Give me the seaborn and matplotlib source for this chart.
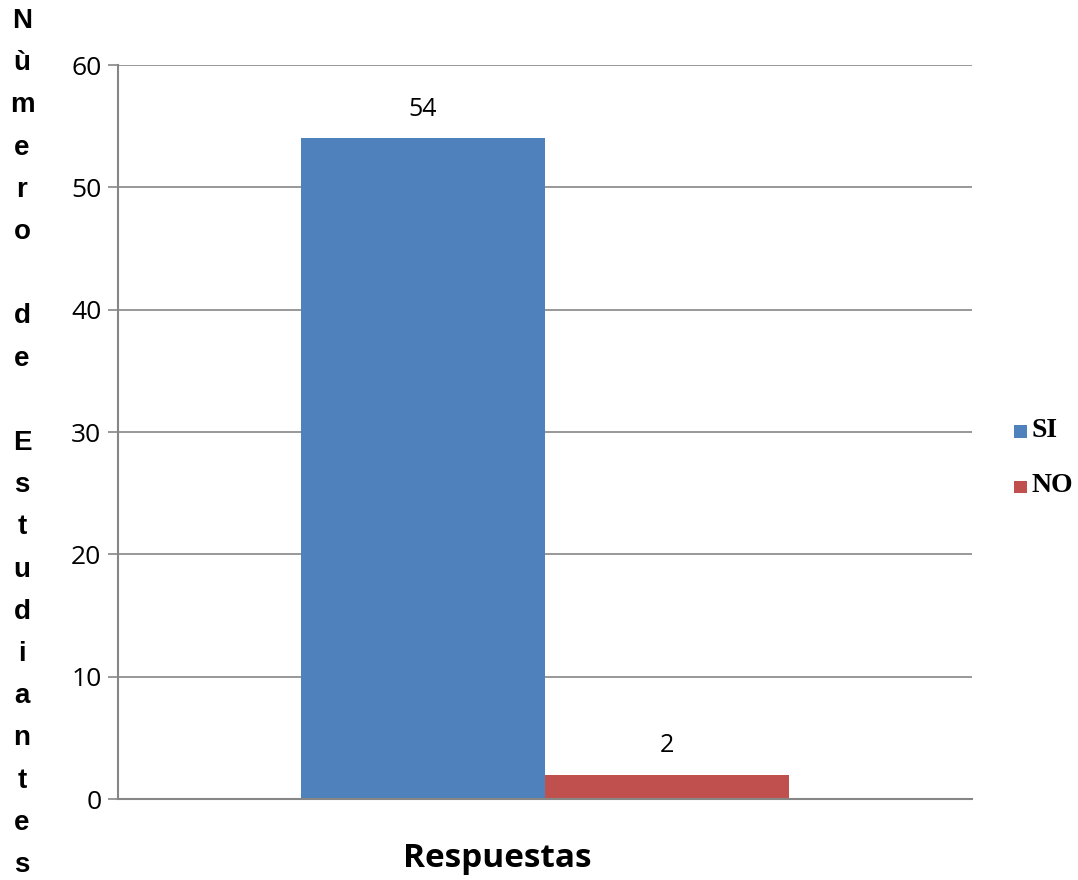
"""
Bar chart: number of students answering SI / NO.
"""
import pandas as pd
import matplotlib
matplotlib.use("Agg")
import matplotlib.pyplot as plt
import seaborn as sns

CATEGORY = ["Respuestas", "Respuestas"]
ANSWERS = ["SI", "NO"]
COUNTS = [54, 2]
COLORS = ["#4F81BD", "#C0504D"]
Y_TICKS = [0, 10, 20, 30, 40, 50, 60]
Y_LABEL = "Nùmero de Estudiantes"
X_LABEL = "Respuestas"

GRID = "#868686"

sns.set_theme(style="white")
plt.rcParams["font.family"] = ["Open Sans", "DejaVu Sans"]
plt.rcParams["text.color"] = "black"

df = pd.DataFrame({"cat": CATEGORY, "resp": ANSWERS, "n": COUNTS})

fig = plt.figure(figsize=(10.78, 8.8), dpi=100)
ax = fig.add_axes([118 / 1078, 1 - 799 / 880, 854 / 1078, 734 / 880])

sns.barplot(data=df, x="cat", y="n", hue="resp", hue_order=ANSWERS,
            palette=COLORS, width=0.571, saturation=1, ax=ax,
            edgecolor="none", linewidth=0, legend=True)

for cont in ax.containers:
    ax.bar_label(cont, padding=12, fontsize=18, color="black")

ax.set_ylim(0, 60)
ax.set_yticks(Y_TICKS)
ax.set_xlim(-0.5, 0.5)
ax.tick_params(axis="y", labelsize=19, length=7, width=1.2, color=GRID,
               left=True, pad=5, labelcolor="black")
ax.tick_params(axis="x", bottom=False, labelbottom=False)
ax.yaxis.grid(True, color=GRID, linewidth=1.2)
ax.set_axisbelow(True)
ax.set_xlabel("")
ax.set_ylabel("")
for side in ["top", "right"]:
    ax.spines[side].set_visible(False)
for side in ["left", "bottom"]:
    ax.spines[side].set_color(GRID)
    ax.spines[side].set_linewidth(1.5)

# stacked vertical y label, one letter per line, blank line between words
stacked = "\n".join(" " if ch == " " else ch for ch in Y_LABEL)
fig.text(22 / 1078, 1 - 443 / 880, stacked, ha="center", va="center",
         multialignment="center", fontsize=20, fontweight="bold",
         family=["Liberation Sans", "DejaVu Sans"], linespacing=1.81)

fig.text(497 / 1078, 1 - 858 / 880, X_LABEL, ha="center", va="center",
         fontsize=24, fontweight="bold", color="black")

leg = ax.legend(loc="center left", bbox_to_anchor=(1008 / 1078, 1 - 458 / 880),
                bbox_transform=fig.transFigure, frameon=False,
                handlelength=0.85, handleheight=0.85, handletextpad=0.3,
                labelspacing=2.0, borderaxespad=0)
for t in leg.get_texts():
    t.set_fontfamily(["Liberation Serif", "DejaVu Serif"])
    t.set_fontweight("bold")
    t.set_fontsize(20)
    t.set_color("black")

fig.savefig("out.png", dpi=100)
